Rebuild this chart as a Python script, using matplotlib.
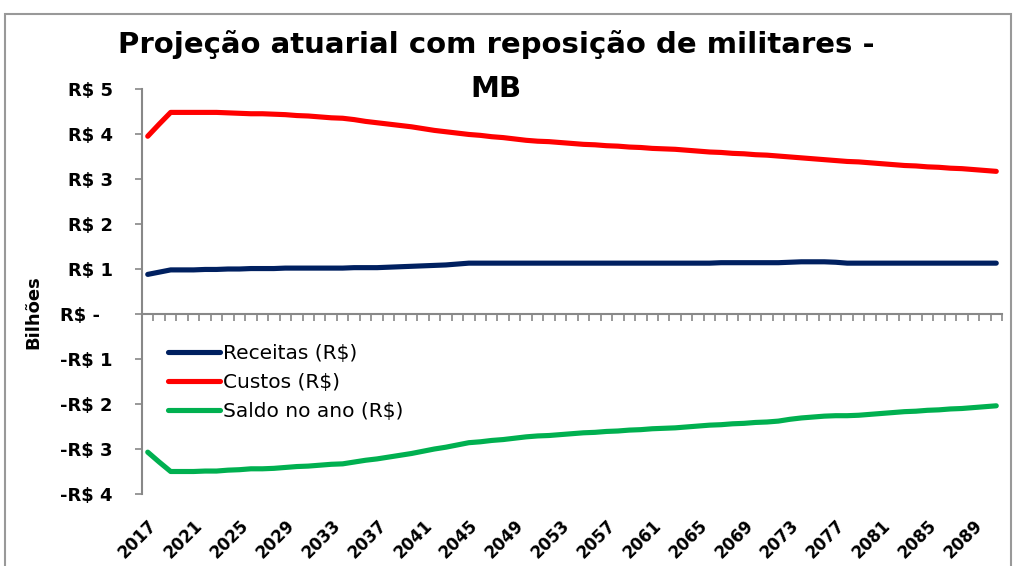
import matplotlib
matplotlib.use("Agg")
from matplotlib import pyplot as plt
from matplotlib.patches import Rectangle
import numpy as np

plt.rcParams['font.family'] = ['DejaVu Sans']

# anos da projeção
anos = list(range(2017, 2092))

# valores em bilhões de R$
receitas = [0.88, 0.93, 0.98, 0.98, 0.98, 0.99, 0.99, 1.00, 1.00, 1.01,
            1.01, 1.01, 1.02, 1.02, 1.02, 1.02, 1.02, 1.02, 1.03, 1.03,
            1.03, 1.04, 1.05, 1.06, 1.07, 1.08, 1.09, 1.11, 1.13, 1.13,
            1.13, 1.13, 1.13, 1.13, 1.13, 1.13, 1.13, 1.13, 1.13, 1.13,
            1.13, 1.13, 1.13, 1.13, 1.13, 1.13, 1.13, 1.13, 1.13, 1.13,
            1.14, 1.14, 1.14, 1.14, 1.14, 1.14, 1.15, 1.16, 1.16, 1.16,
            1.15, 1.13, 1.13, 1.13, 1.13, 1.13, 1.13, 1.13, 1.13, 1.13,
            1.13, 1.13, 1.13, 1.13, 1.13]

custos = [3.95, 4.22, 4.48, 4.48, 4.48, 4.48, 4.48, 4.47, 4.46, 4.45,
          4.45, 4.44, 4.43, 4.41, 4.40, 4.38, 4.36, 4.35, 4.32, 4.28,
          4.25, 4.22, 4.19, 4.16, 4.12, 4.08, 4.05, 4.02, 3.99, 3.97,
          3.94, 3.92, 3.89, 3.86, 3.84, 3.83, 3.81, 3.79, 3.77, 3.76,
          3.74, 3.73, 3.71, 3.70, 3.68, 3.67, 3.66, 3.64, 3.62, 3.60,
          3.59, 3.57, 3.56, 3.54, 3.53, 3.51, 3.49, 3.47, 3.45, 3.43,
          3.41, 3.39, 3.38, 3.36, 3.34, 3.32, 3.30, 3.29, 3.27, 3.26,
          3.24, 3.23, 3.21, 3.19, 3.17]

saldo = [-3.07, -3.29, -3.50, -3.50, -3.50, -3.49, -3.49, -3.47, -3.46, -3.44,
         -3.44, -3.43, -3.41, -3.39, -3.38, -3.36, -3.34, -3.33, -3.29, -3.25,
         -3.22, -3.18, -3.14, -3.10, -3.05, -3.00, -2.96, -2.91, -2.86, -2.84,
         -2.81, -2.79, -2.76, -2.73, -2.71, -2.70, -2.68, -2.66, -2.64, -2.63,
         -2.61, -2.60, -2.58, -2.57, -2.55, -2.54, -2.53, -2.51, -2.49, -2.47,
         -2.46, -2.44, -2.43, -2.41, -2.40, -2.38, -2.34, -2.31, -2.29, -2.27,
         -2.26, -2.26, -2.25, -2.23, -2.21, -2.19, -2.17, -2.16, -2.14, -2.13,
         -2.11, -2.10, -2.08, -2.06, -2.04]

y_ticks = [5, 4, 3, 2, 1, 0, -1, -2, -3, -4]
y_labels = ["R$ 5", "R$ 4", "R$ 3", "R$ 2", "R$ 1", "R$ -  ",
            "-R$ 1", "-R$ 2", "-R$ 3", "-R$ 4"]

fig = plt.figure(figsize=(10.17, 5.66), dpi=100)
ax = fig.add_axes([142/1017, 1-494/566, 860/1017, 405/566])

x = np.arange(len(anos))
ax.plot(x, receitas, color="#002060", lw=3.7, solid_capstyle='round', label="Receitas (R$)")
ax.plot(x, custos, color="#FF0000", lw=3.7, solid_capstyle='round', label="Custos (R$)")
ax.plot(x, saldo, color="#00B050", lw=3.7, solid_capstyle='round', label="Saldo no ano (R$)")

ax.set_xlim(-0.5, len(anos)-0.5)
ax.set_ylim(-4, 5)

# eixo y
ax.set_yticks(y_ticks)
ax.set_yticklabels(y_labels, fontweight='bold', fontsize=13)
ax.tick_params(axis='y', length=5, width=1.2, color='#888888', pad=16)

# eixo x passando no zero, com marcas entre as categorias
for s in ['top', 'right']:
    ax.spines[s].set_visible(False)
ax.spines['bottom'].set_position(('data', 0))
ax.spines['bottom'].set_color('#888888')
ax.spines['bottom'].set_linewidth(1.5)
ax.spines['left'].set_color('#888888')
ax.spines['left'].set_linewidth(1.5)
ax.set_xticks([])
ax.set_xticks(np.arange(len(anos)+1) - 0.5, minor=True)
ax.tick_params(axis='x', which='minor', length=5, width=1.2, color='#888888', direction='out')

# rótulos dos anos embaixo
sec = ax.secondary_xaxis(0)
sec.spines['bottom'].set_visible(False)
sec.set_xticks(x[::4])
sec.set_xticklabels([str(a) for a in anos[::4]], rotation=45, ha='right',
                    rotation_mode='anchor', fontweight='bold', fontsize=12)
sec.tick_params(axis='x', length=0, pad=16)

ax.set_ylabel("Bilhões", fontweight='bold', fontsize=13)
ax.yaxis.set_label_coords(-0.116, 0.45)

fig.text(0.488, 0.922, "Projeção atuarial com reposição de militares -",
         ha='center', va='center', fontweight='bold', fontsize=21)
fig.text(0.488, 0.842, "MB", ha='center', va='center', fontweight='bold', fontsize=21)

ax.legend(loc='upper left', bbox_to_anchor=(0.021, 0.39), frameon=False,
          fontsize=14.5, handlelength=2.6, handletextpad=0.15, labelspacing=0.5,
          borderaxespad=0)

# moldura do gráfico
fig.patches.append(Rectangle((5/1017, -0.01), 1006/1017, 1-14/566+0.01,
                             transform=fig.transFigure, fill=False,
                             edgecolor='#999999', lw=1.5))

fig.savefig("out.png", dpi=100)
